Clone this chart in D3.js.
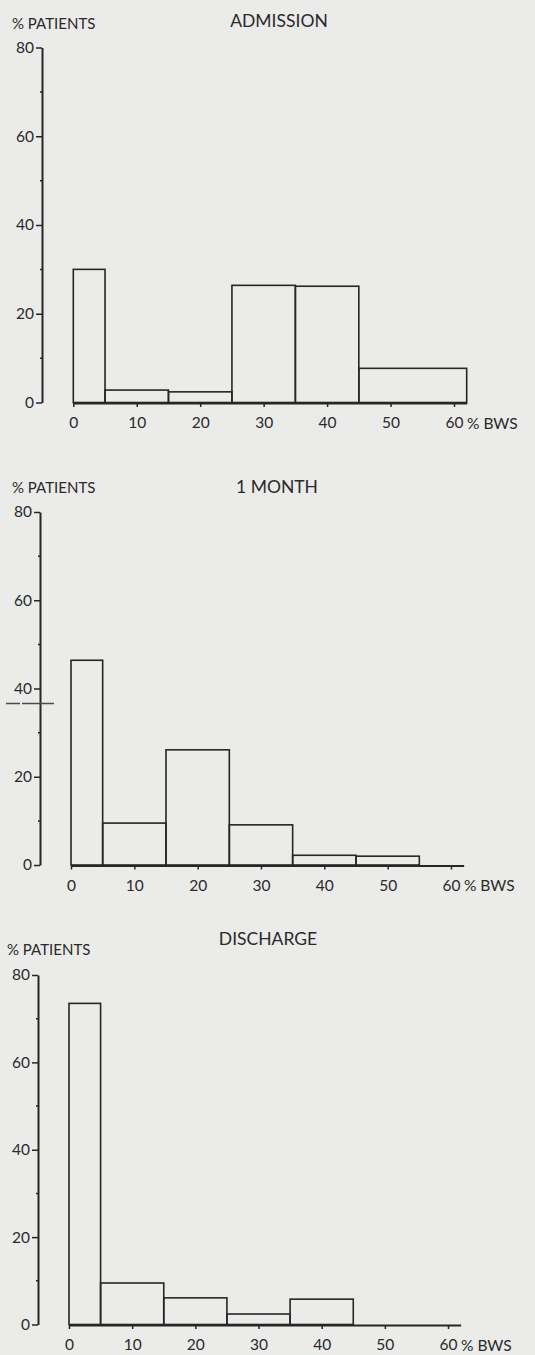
<!DOCTYPE html>
<html>
<head>
<meta charset="utf-8">
<script src="https://cdn.jsdelivr.net/npm/d3@7"></script>
<style>
  html, body { margin: 0; padding: 0; background: #ebebe9; }
  svg { display: block; }
  text { font-family: Lato, "Open Sans", sans-serif; fill: #2a2a2a; }
</style>
</head>
<body>
<div id="chart"></div>
<script>
// values (% of patients per % BWS band)
var titles = ["ADMISSION", "1 MONTH", "DISCHARGE"];

var admissionBins = [[0, 5], [5, 15], [15, 25], [25, 35], [35, 45], [45, 62]];
var admissionValues = [30, 2.8, 2.4, 26.4, 26.2, 7.7];

var monthBins = [[0, 5], [5, 15], [15, 25], [25, 35], [35, 45], [45, 55]];
var monthValues = [46.4, 9.5, 26.1, 9.1, 2.2, 2.0];

var dischargeBins = [[0, 5], [5, 15], [15, 25], [25, 35], [35, 45]];
var dischargeValues = [73.5, 9.5, 6.1, 2.4, 5.8];

var yTicks = [0, 20, 40, 60, 80];
var yMinorTicks = [10, 30, 50, 70];
var xTicks = [0, 10, 20, 30, 40, 50, 60];
var xMax = 62;

// where each panel sits on the page (the scan is slightly uneven)
var panels = [
  { bins: admissionBins, values: admissionValues, axisX: 42, x0: 73.3, unit: 6.345, y0: 402.5, y80: 47.5,
    headY: 29, titleX: 279, titleY: 27, unitsX: 12 },
  { bins: monthBins, values: monthValues, axisX: 40, x0: 71, unit: 6.333, y0: 865, y80: 512,
    headY: 493, titleX: 277, titleY: 493, unitsX: 12 },
  { bins: dischargeBins, values: dischargeValues, axisX: 38, x0: 69, unit: 6.317, y0: 1324.5, y80: 975,
    headY: 955, titleX: 268, titleY: 945, unitsX: 7 }
];

var svg = d3.select("#chart").append("svg")
  .attr("width", 535)
  .attr("height", 1355);

function drawPanel(p, i) {
  var g = svg.append("g").attr("class", "panel p" + i);

  var x = d3.scaleLinear().domain([0, xMax]).range([p.x0, p.x0 + xMax * p.unit]);
  var y = d3.scaleLinear().domain([0, 80]).range([p.y0, p.y80]);

  // bars: open rectangles
  g.selectAll("rect.bar")
    .data(p.bins.map(function(b, k) { return { lo: b[0], hi: b[1], v: p.values[k] }; }))
    .enter().append("rect")
      .attr("class", "bar")
      .attr("x", function(d) { return x(d.lo); })
      .attr("y", function(d) { return y(d.v); })
      .attr("width", function(d) { return x(d.hi) - x(d.lo); })
      .attr("height", function(d) { return y(0) - y(d.v); })
      .attr("fill", "none")
      .attr("stroke", "#262626")
      .attr("stroke-width", 1.6);

  // y axis
  var ya = g.append("g")
    .attr("transform", "translate(" + p.axisX + ",0)")
    .call(d3.axisLeft(y).tickValues(yTicks).tickSize(6).tickSizeOuter(0).tickPadding(2));
  ya.select(".domain").attr("stroke", "#262626").attr("stroke-width", 2);
  ya.selectAll(".tick line").attr("stroke", "#262626").attr("stroke-width", 1.5);
  ya.selectAll(".tick text").style("font-size", "15.5px").attr("fill", "#2a2a2a");

  g.selectAll("line.yminor")
    .data(yMinorTicks)
    .enter().append("line")
      .attr("class", "yminor")
      .attr("x1", p.axisX - 2).attr("x2", p.axisX)
      .attr("y1", function(d) { return y(d); })
      .attr("y2", function(d) { return y(d); })
      .attr("stroke", "#262626").attr("stroke-width", 1.5);

  // x axis
  var xa = g.append("g")
    .attr("transform", "translate(0," + (p.y0 + 0.5) + ")")
    .call(d3.axisBottom(x).tickValues(xTicks).tickSize(4).tickSizeOuter(0).tickPadding(10));
  xa.select(".domain").attr("stroke", "#262626").attr("stroke-width", 2);
  xa.selectAll(".tick line").attr("stroke", "#262626").attr("stroke-width", 1.5);
  xa.selectAll(".tick text").style("font-size", "15.5px").attr("fill", "#2a2a2a");

  g.append("text")
    .attr("x", x(60) + 13)
    .attr("y", p.y0 + 26)
    .style("font-size", "15.5px")
    .text("% BWS");

  // headings
  g.append("text")
    .attr("x", p.unitsX)
    .attr("y", p.headY)
    .style("font-size", "15px")
    .text("% PATIENTS");

  g.append("text")
    .attr("x", p.titleX)
    .attr("y", p.titleY)
    .attr("text-anchor", "middle")
    .style("font-size", "17.5px")
    .text(titles[i]);

  return g;
}

panels.forEach(drawPanel);

// stray pen stroke across the 1 MONTH axis in the scan
(function() {
  var p = panels[1];
  var y = d3.scaleLinear().domain([0, 80]).range([p.y0, p.y80]);
  svg.append("line")
    .attr("x1", 6).attr("x2", p.axisX + 14)
    .attr("y1", y(36.6)).attr("y2", y(36.6))
    .attr("stroke", "#4a4a4a")
    .attr("stroke-width", 1.5)
    .attr("stroke-dasharray", "14 2 20 0");
})();
</script>
</body>
</html>
